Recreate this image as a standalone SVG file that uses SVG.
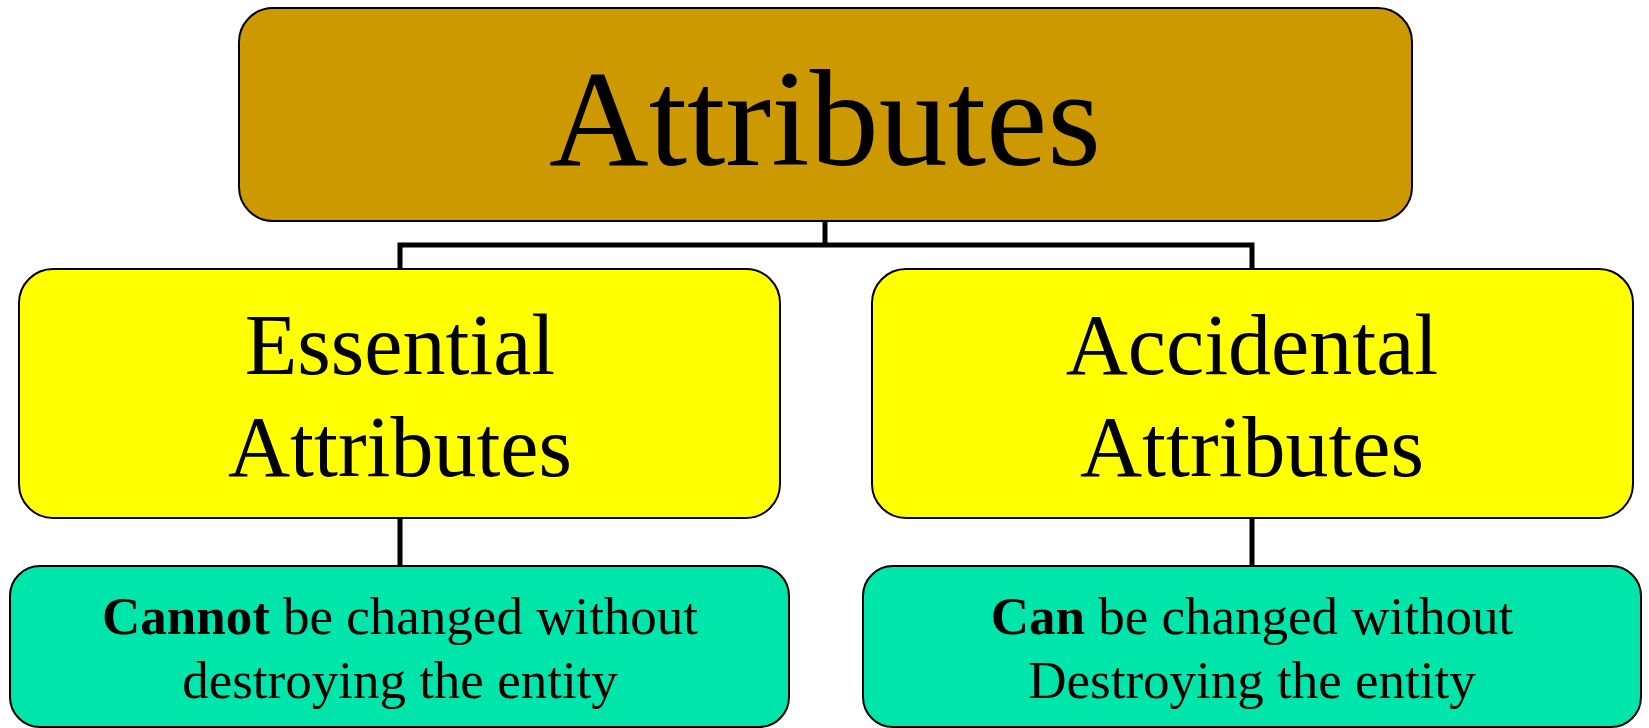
<svg xmlns="http://www.w3.org/2000/svg" width="1649" height="728" viewBox="0 0 1649 728">
<style>
.box{stroke:#000;stroke-width:2}
.top{fill:#CC9900}
.mid{fill:#FFFF00}
.low{fill:#00E6AA}
.t{font-family:"Liberation Serif","Times New Roman",serif;fill:#000;text-anchor:middle}
.conn{fill:none;stroke:#000;stroke-width:5}
</style>
<rect width="1649" height="728" fill="#fff"/>
<g id="connectors">
<path class="conn" d="M825 221 V245 M400 269 V245 H1252 V269"/>
<path class="conn" d="M400 518 V566 M1252 518 V566"/>
</g>
<g id="attributes">
<rect class="box top" x="239" y="8" width="1173" height="213" rx="34"/>
<text class="t" x="825" y="165" font-size="138">Attributes</text>
</g>
<g id="essential">
<rect class="box mid" x="19" y="269" width="761" height="249" rx="34"/>
<text class="t" x="400" y="374" font-size="86">Essential</text>
<text class="t" x="400" y="476" font-size="86">Attributes</text>
</g>
<g id="accidental">
<rect class="box mid" x="872" y="269" width="761" height="249" rx="34"/>
<text class="t" x="1252" y="374" font-size="86">Accidental</text>
<text class="t" x="1252" y="476" font-size="86">Attributes</text>
</g>
<g id="essential-desc">
<rect class="box low" x="10" y="566" width="779" height="161" rx="30"/>
<text class="t" x="400" y="634" font-size="53"><tspan font-weight="bold">Cannot</tspan> be changed without</text>
<text class="t" x="400" y="698" font-size="53">destroying the entity</text>
</g>
<g id="accidental-desc">
<rect class="box low" x="863" y="566" width="778" height="161" rx="30"/>
<text class="t" x="1252" y="634" font-size="53"><tspan font-weight="bold">Can</tspan> be changed without</text>
<text class="t" x="1252" y="698" font-size="53">Destroying the entity</text>
</g>
</svg>
